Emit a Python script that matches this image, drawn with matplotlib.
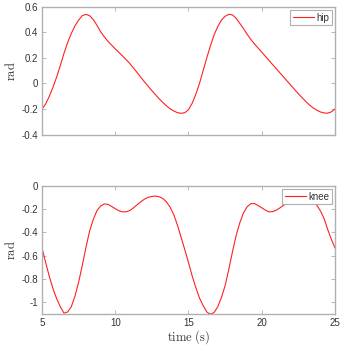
import matplotlib
matplotlib.use("Agg")
import matplotlib.pyplot as plt

# values every 0.25 s (time in s, angles in rad)
t = [5.0, 5.25, 5.5, 5.75, 6.0, 6.25, 6.5, 6.75, 7.0, 7.25,
     7.5, 7.75, 8.0, 8.25, 8.5, 8.75, 9.0, 9.25, 9.5, 9.75,
     10.0, 10.25, 10.5, 10.75, 11.0, 11.25, 11.5, 11.75, 12.0, 12.25,
     12.5, 12.75, 13.0, 13.25, 13.5, 13.75, 14.0, 14.25, 14.5, 14.75,
     15.0, 15.25, 15.5, 15.75, 16.0, 16.25, 16.5, 16.75, 17.0, 17.25,
     17.5, 17.75, 18.0, 18.25, 18.5, 18.75, 19.0, 19.25, 19.5, 19.75,
     20.0, 20.25, 20.5, 20.75, 21.0, 21.25, 21.5, 21.75, 22.0, 22.25,
     22.5, 22.75, 23.0, 23.25, 23.5, 23.75, 24.0, 24.25, 24.5, 24.75, 25.0]

hip = [-0.20, -0.16, -0.10, -0.03, 0.05, 0.14, 0.235, 0.32, 0.39, 0.45,
       0.495, 0.53, 0.54, 0.53, 0.50, 0.455, 0.405, 0.365, 0.33, 0.30,
       0.27, 0.243, 0.215, 0.186, 0.155, 0.12, 0.085, 0.048, 0.012, -0.022,
       -0.056, -0.088, -0.12, -0.148, -0.175, -0.198, -0.215, -0.228, -0.233, -0.228,
       -0.205, -0.155, -0.085, 0.0, 0.10, 0.20, 0.295, 0.38, 0.445, 0.495,
       0.525, 0.54, 0.536, 0.51, 0.47, 0.43, 0.385, 0.345, 0.31, 0.277,
       0.245, 0.212, 0.18, 0.147, 0.115, 0.082, 0.05, 0.017, -0.015, -0.048,
       -0.08, -0.11, -0.14, -0.167, -0.19, -0.208, -0.222, -0.23, -0.232, -0.222, -0.20]

knee = [-0.535, -0.66, -0.78, -0.885, -0.97, -1.04, -1.095, -1.085, -1.04, -0.95,
        -0.83, -0.685, -0.53, -0.39, -0.29, -0.215, -0.175, -0.157, -0.16, -0.178,
        -0.197, -0.215, -0.225, -0.224, -0.213, -0.19, -0.163, -0.138, -0.115, -0.10,
        -0.092, -0.089, -0.095, -0.11, -0.14, -0.185, -0.25, -0.34, -0.445, -0.55,
        -0.66, -0.775, -0.875, -0.965, -1.03, -1.085, -1.105, -1.09, -1.04, -0.96,
        -0.86, -0.72, -0.57, -0.43, -0.32, -0.235, -0.182, -0.155, -0.153, -0.17,
        -0.19, -0.21, -0.225, -0.222, -0.21, -0.19, -0.168, -0.145, -0.125, -0.11,
        -0.10, -0.097, -0.105, -0.12, -0.14, -0.165, -0.215, -0.28, -0.375, -0.46, -0.535]

xticks = [5, 10, 15, 20, 25]
hip_yticks = [-0.4, -0.2, 0, 0.2, 0.4, 0.6]
hip_ylabels = ["-0.4", "-0.2", "0", "0.2", "0.4", "0.6"]
knee_yticks = [-1, -0.8, -0.6, -0.4, -0.2, 0]
knee_ylabels = ["-1", "-0.8", "-0.6", "-0.4", "-0.2", "0"]

plt.rcParams["axes.unicode_minus"] = False
plt.rcParams["mathtext.fontset"] = "cm"
plt.rcParams["font.family"] = ["Liberation Sans", "DejaVu Sans"]

EDGE = "#b0b0b0"
TXT = "#333333"

fig = plt.figure(figsize=(3.49, 3.45), dpi=100)
ax1 = fig.add_axes([0.1203, 0.6096, 0.8395, 0.371])
ax2 = fig.add_axes([0.1203, 0.0907, 0.8395, 0.371])


def style(ax):
    for s in ax.spines.values():
        s.set_color(EDGE)
        s.set_linewidth(1.0)
    ax.tick_params(direction="in", length=3, width=0.6, color=EDGE,
                   labelsize=7, labelcolor=TXT, top=True, right=True, pad=3)


ax1.plot(t, hip, color="#ff2020", lw=0.8, label="hip")
ax1.set_xlim(5, 25)
ax1.set_ylim(-0.4, 0.6)
ax1.set_xticks(xticks)
ax1.set_xticklabels([])
ax1.set_yticks(hip_yticks)
ax1.set_yticklabels(hip_ylabels)
ax1.set_ylabel(r"$\mathrm{rad}$", fontsize=9, color=TXT, labelpad=2)
style(ax1)

ax2.plot(t, knee, color="#ff2020", lw=0.8, label="knee")
ax2.set_xlim(5, 25)
ax2.set_ylim(-1.1, 0)
ax2.set_xticks(xticks)
ax2.set_yticks(knee_yticks)
ax2.set_yticklabels(knee_ylabels)
ax2.set_ylabel(r"$\mathrm{rad}$", fontsize=9, color=TXT, labelpad=2)
ax2.set_xlabel(r"$\mathrm{time\ (s)}$", fontsize=9, color=TXT, labelpad=0)
style(ax2)

for ax in (ax1, ax2):
    leg = ax.legend(loc="upper right", fontsize=7, handlelength=2.2,
                    handletextpad=0.2, borderpad=0.3, borderaxespad=0.3,
                    fancybox=False, framealpha=1, edgecolor=EDGE)
    leg.get_frame().set_linewidth(0.8)
    for txt in leg.get_texts():
        txt.set_color(TXT)

fig.savefig("out.png", dpi=100)
